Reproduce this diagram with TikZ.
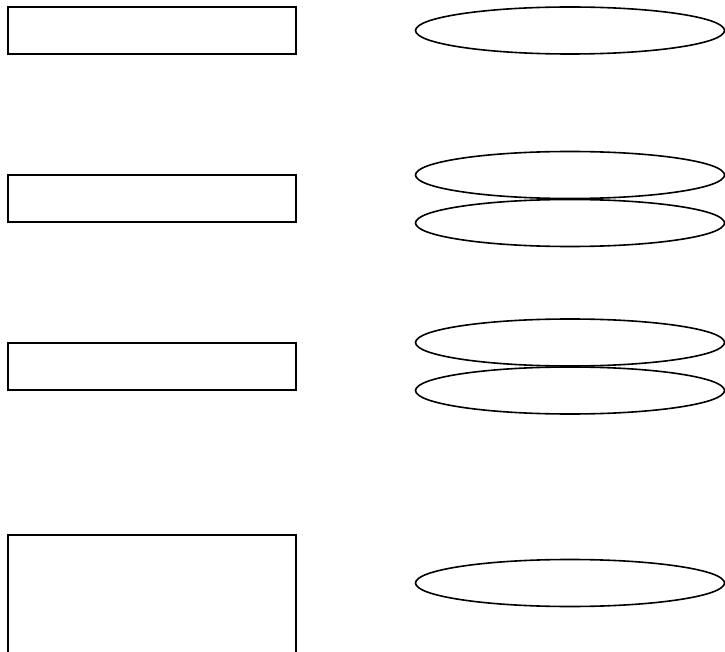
\documentclass[tikz,border=0pt]{standalone}
\usetikzlibrary{shapes.geometric}
\begin{document}
\begin{tikzpicture}[x=1pt,y=-1pt,
  boxnode/.style={draw=black,line width=2pt,rectangle,inner sep=0pt,minimum width=288pt},
  ellnode/.style={draw=black,line width=1.6pt,ellipse,inner sep=0pt,minimum width=309pt,minimum height=47pt}]
\clip (0,0) rectangle (725,652);
\useasboundingbox (0,0) rectangle (725,652);
\fill[white] (0,0) rectangle (725,652);
\node[boxnode,minimum height=47pt] (r1) at (152,30.5) {};
\node[boxnode,minimum height=47pt] (r2) at (152,198.5) {};
\node[boxnode,minimum height=47pt] (r3) at (152,366.5) {};
\node[boxnode,minimum height=140pt] (r4) at (152,605) {};
\node[ellnode] (e1) at (570,30.5) {};
\node[ellnode] (e2) at (570,175) {};
\node[ellnode] (e3) at (570,223) {};
\node[ellnode] (e4) at (570,342.5) {};
\node[ellnode] (e5) at (570,390.5) {};
\node[ellnode] (e6) at (570,583) {};
\end{tikzpicture}
\end{document}
